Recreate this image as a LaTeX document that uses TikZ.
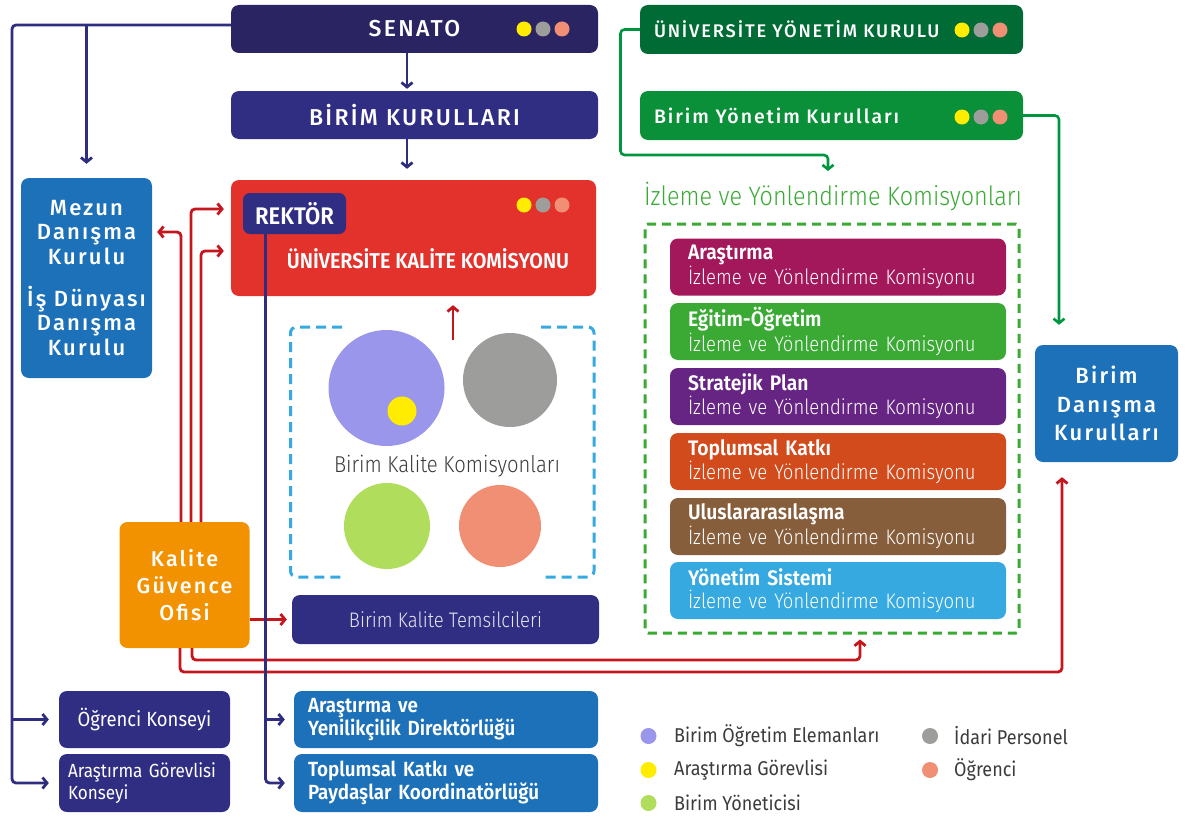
\documentclass[tikz,border=0pt]{standalone}
\usepackage{fontspec}
\setmainfont{Fira Sans}
\newfontfamily\hd{Fira Sans Medium}[LetterSpace=10]
\newfontfamily\cb{Fira Sans SemiBold}[FakeStretch=0.92]
\newfontfamily\cl{Fira Sans Light}[FakeStretch=0.88]
\newfontfamily\cm{Fira Sans}[FakeStretch=0.9]
\usetikzlibrary{arrows.meta}
\definecolor{navyA}{HTML}{2B2462}
\definecolor{indigo}{HTML}{302E83}
\definecolor{kred}{HTML}{E3312B}
\definecolor{kblue}{HTML}{1D71B8}
\definecolor{korange}{HTML}{F39200}
\definecolor{dgreen}{HTML}{006B35}
\definecolor{mgreen}{HTML}{0A9038}
\definecolor{tgreen}{HTML}{3AAA35}
\definecolor{lblue}{HTML}{36A9E1}
\definecolor{cpurple}{HTML}{9A96EC}
\definecolor{cgray}{HTML}{9D9D9C}
\definecolor{csalmon}{HTML}{F18F75}
\definecolor{clime}{HTML}{B0DD5B}
\definecolor{cyellow}{HTML}{FFEC00}
\definecolor{lnred}{HTML}{C4161C}
\definecolor{lnnavy}{HTML}{2E2D7F}
\definecolor{lngreen}{HTML}{009640}
\definecolor{kA}{HTML}{A2185B}
\definecolor{kB}{HTML}{3AAA35}
\definecolor{kC}{HTML}{662483}
\definecolor{kD}{HTML}{D14B1C}
\definecolor{kE}{HTML}{875E3C}
\definecolor{kF}{HTML}{36A9E1}
\definecolor{legtext}{HTML}{3C3C3B}
\begin{document}
\begin{tikzpicture}[x=1pt,y=-1pt,
  box/.style={rectangle, rounded corners=8pt, inner sep=0pt, text=white},
  hdfont/.style={font=\hd\fontsize{23}{26}\selectfont},
  combox/.style={box, minimum width=336pt, minimum height=57pt, inner xsep=18pt, text width=300pt, align=left, font=\fontsize{21}{22.5}\selectfont},
  arr/.style={-{Straight Barb[length=4.5pt,width=11pt]}},
  navyln/.style={draw=lnnavy, line width=2.8pt, rounded corners=4pt, arr},
  redln/.style={draw=lnred, line width=2.8pt, rounded corners=4pt, arr},
  greenln/.style={draw=lngreen, line width=2.6pt, rounded corners=4pt, arr},
  dot/.style={circle, inner sep=0pt, minimum size=16pt},
  legtxt/.style={anchor=west, inner sep=0pt, text=legtext, font=\cm\fontsize{20}{22}\selectfont}
]
\useasboundingbox (0,0) rectangle (1185,816);
\fill[white] (0,0) rectangle (1185,816);

% ---------- left / centre column ----------
\node[box, fill=navyA, minimum width=367pt, minimum height=48pt, hdfont] (senato) at (414.5,29) {SENATO\hspace{28pt}};
\node[box, fill=indigo, minimum width=367pt, minimum height=48pt, hdfont] (birim) at (414.5,115) {BİRİM KURULLARI\hspace{26pt}};
\node[box, fill=kred, minimum width=365pt, minimum height=116pt] (ukk) at (413.5,238) {};
\node[box, fill=indigo, rounded corners=7pt, minimum width=103pt, minimum height=41pt, font=\cb\fontsize{24}{26}\selectfont] (rektor) at (294.5,213.5) {REKTÖR};
\node[text=white, font=\cb\fontsize{21.5}{24}\selectfont] (ukktext) at (428,259) {ÜNİVERSİTE KALİTE KOMİSYONU};

\foreach \yy in {29,205}{
  \fill[cyellow] (524,\yy) circle (7.5);
  \fill[cgray] (543,\yy) circle (7.5);
  \fill[csalmon] (562,\yy) circle (7.5);
}

\node[box, fill=kblue, minimum width=131pt, minimum height=200pt, align=center, font=\hd\fontsize{22}{24.5}\selectfont] (mezun) at (86.5,278) {Mezun\\Danışma\\Kurulu\\[17.5pt]İş Dünyası\\Danışma\\Kurulu};
\node[box, fill=korange, minimum width=130pt, minimum height=126pt, align=center, font=\hd\fontsize{21.5}{27}\selectfont] (kgo) at (184.5,585) {Kalite\\Güvence\\Ofisi};

% Birim Kalite Komisyonlari group
\draw[lblue, line width=3pt, dash pattern=on 10pt off 6pt, rounded corners=6pt]
  (342,327) -- (290.5,327) -- (290.5,577) -- (342,577);
\draw[lblue, line width=3pt, dash pattern=on 10pt off 6pt, rounded corners=6pt]
  (541,327) -- (594,327) -- (594,577) -- (541,577);
\node[circle, fill=cpurple, inner sep=0pt, minimum size=116pt] (cp) at (386.5,388) {};
\node[circle, fill=cyellow, inner sep=0pt, minimum size=29pt] (cy) at (402,411) {};
\node[circle, fill=cgray, inner sep=0pt, minimum size=94pt] (cg) at (510,380) {};
\node[circle, fill=clime, inner sep=0pt, minimum size=86pt] (cl) at (387,526) {};
\node[circle, fill=csalmon, inner sep=0pt, minimum size=82pt] (cs) at (500,526) {};
\node[text=legtext, font=\cl\fontsize{23}{25}\selectfont] (bkklabel) at (447,466) {Birim Kalite Komisyonları};
\coordinate (bkkup) at (453,340);

\node[box, fill=indigo, minimum width=307pt, minimum height=49pt, text=white!88!indigo, font=\cl\fontsize{21}{23}\selectfont] (bkt) at (445.5,619.5) {Birim Kalite Temsilcileri};

\node[box, fill=indigo, minimum width=171pt, minimum height=57pt, font=\cm\fontsize{20.5}{22}\selectfont] (ok) at (144.5,719.5) {Öğrenci Konseyi};
\node[box, fill=indigo, minimum width=171pt, minimum height=58pt, inner xsep=9pt, text width=153pt, align=left, font=\cm\fontsize{19}{22.5}\selectfont] (agk) at (144.5,783) {Araştırma Görevlisi\\Konseyi};
\node[box, fill=kblue, minimum width=304pt, minimum height=57pt, inner xsep=14pt, text width=276pt, align=left, font=\cb\fontsize{20.5}{23.5}\selectfont] (ayd) at (446,719.5) {Araştırma ve\\Yenilikçilik Direktörlüğü};
\node[box, fill=kblue, minimum width=304pt, minimum height=58pt, inner xsep=14pt, text width=276pt, align=left, font=\cb\fontsize{20.5}{23.5}\selectfont] (tkp) at (446,783) {Toplumsal Katkı ve\\Paydaşlar Koordinatörlüğü};

% ---------- right column ----------
\node[box, fill=dgreen, minimum width=383pt, minimum height=49pt, inner xsep=14pt, text width=355pt, align=left, font=\hd\fontsize{18.3}{22}\selectfont] (uyk) at (831.5,29.5) {ÜNİVERSİTE YÖNETİM KURULU};
\node[box, fill=mgreen, minimum width=383pt, minimum height=49pt, inner xsep=14pt, text width=355pt, align=left, font=\hd\fontsize{19.5}{22}\selectfont] (byk) at (831.5,115.5) {Birim Yönetim Kurulları};
\foreach \yy in {30,117}{
  \fill[cyellow] (962,\yy) circle (7.5);
  \fill[cgray] (981,\yy) circle (7.5);
  \fill[csalmon] (1000,\yy) circle (7.5);
}

\node[text=tgreen, font=\cl\fontsize{26.6}{28}\selectfont] (izl) at (833,197) {İzleme ve Yönlendirme Komisyonları};
\node[draw=tgreen, line width=3pt, dash pattern=on 9pt off 6pt, rounded corners=3pt, minimum width=374pt, minimum height=409pt, inner sep=0pt] (izlbox) at (832,428.5) {};

\node[combox, fill=kA] (k1) at (838,267) {{\cb Araştırma}\\{\cl İzleme ve Yönlendirme Komisyonu}};
\node[combox, fill=kB] (k2) at (838,331.5) {{\cb Eğitim-Öğretim}\\{\cl İzleme ve Yönlendirme Komisyonu}};
\node[combox, fill=kC] (k3) at (838,396.5) {{\cb Stratejik Plan}\\{\cl İzleme ve Yönlendirme Komisyonu}};
\node[combox, fill=kD] (k4) at (838,461.5) {{\cb Toplumsal Katkı}\\{\cl İzleme ve Yönlendirme Komisyonu}};
\node[combox, fill=kE] (k5) at (838,526.5) {{\cb Uluslararasılaşma}\\{\cl İzleme ve Yönlendirme Komisyonu}};
\node[combox, fill=kF] (k6) at (838,590.5) {{\cb Yönetim Sistemi}\\{\cl İzleme ve Yönlendirme Komisyonu}};

\node[box, fill=kblue, minimum width=143pt, minimum height=117pt, align=center, font=\hd\fontsize{22}{28.5}\selectfont] (bdk) at (1106.5,403.5) {Birim\\Danışma\\Kurulları};

% ---------- legend ----------
\node[dot, fill=cpurple] (d1) at (648.5,736) {};
\node[dot, fill=cyellow] (d2) at (648.5,770) {};
\node[dot, fill=clime] (d3) at (648.5,803) {};
\node[dot, fill=cgray] (d4) at (930,736) {};
\node[dot, fill=csalmon] (d5) at (930,770) {};
\node[legtxt] (l1) at (674,736) {Birim Öğretim Elemanları};
\node[legtxt] (l2) at (674,770) {Araştırma Görevlisi};
\node[legtxt] (l3) at (674,803) {Birim Yöneticisi};
\node[legtxt] (l4) at (954,736) {İdari Personel};
\node[legtxt] (l5) at (954,770) {Öğrenci};

% ---------- connectors ----------
% red
\draw[redln, shorten >=5pt] ([xshift=-3.5pt]kgo.north) |- ([yshift=46pt]mezun.east);
\draw[redln, shorten >=7pt] ([xshift=6.5pt]kgo.north) |- ([yshift=29pt]ukk.west);
\draw[redln, shorten >=7pt] ([xshift=16.5pt]kgo.north) |- ([yshift=-13pt]ukk.west);
\draw[redln, shorten >=5pt] (kgo.east |- bkt.west) -- (bkt.west);
\coordinate (rc1) at (1062,672);
\coordinate (rc2) at (860,660);
\draw[redln, shorten >=15pt] ([xshift=-4.5pt]kgo.south) |- (rc1) -- ([xshift=-44.5pt]bdk.south);
\draw[redln, shorten >=5pt] ([xshift=7.5pt]kgo.south) |- (rc2) -- ([xshift=28pt]izlbox.south);
\draw[redln, shorten >=9pt] (bkkup) -- (bkkup |- ukk.south);

% navy
\draw[navyln, shorten >=2pt] ([xshift=-7.5pt]senato.south) -- ([xshift=-7.5pt]birim.north);
\draw[navyln, shorten >=11pt] ([xshift=-7.5pt]birim.south) -- ([xshift=-6.5pt]ukk.north);
\coordinate (lx) at (12,25);
\coordinate (lj) at (12,719.5);
\coordinate (mj) at (86.5,25);
\draw[navyln, shorten >=10pt] ([yshift=4pt]senato.west) -- (lx) |- (agk.west);
\draw[navyln, shorten >=10pt] (lj) -- (ok.west);
\draw[navyln, shorten >=14pt] (mj) -- (mezun.north);
\coordinate (rj) at (265.5,719.5);
\draw[navyln, shorten >=9pt] ([xshift=-29pt]rektor.south) |- (tkp.west);
\draw[navyln, shorten >=9pt] (rj) -- (ayd.west);

% green
\coordinate (g1) at (620.5,155);
\draw[greenln, shorten >=8pt] (uyk.west) -| (g1) -| ([xshift=-5pt]izl.north);
\draw[greenln, shorten >=20pt] (byk.east) -| ([xshift=-47.5pt]bdk.north);
\end{tikzpicture}
\end{document}
